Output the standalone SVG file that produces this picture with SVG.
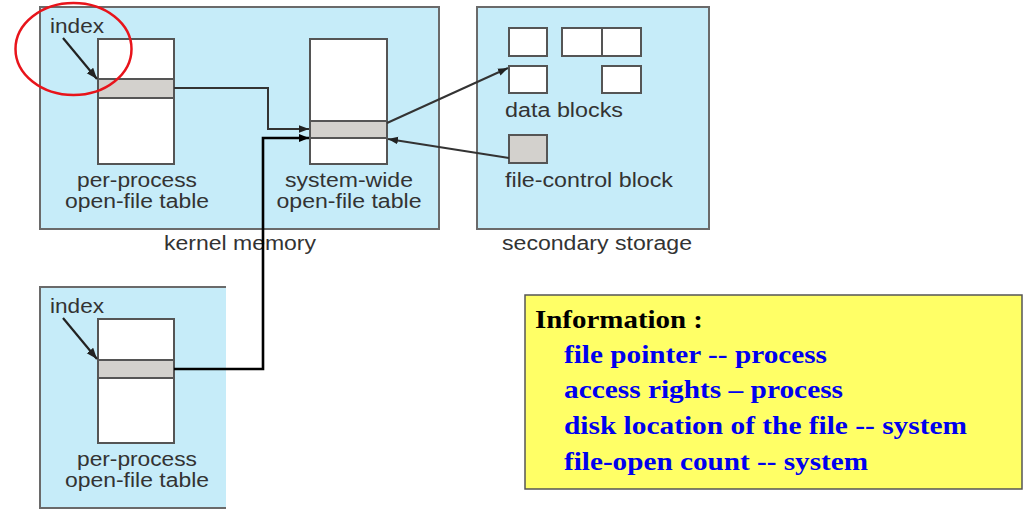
<svg xmlns="http://www.w3.org/2000/svg" width="1024" height="514" viewBox="0 0 1024 514">
<defs>
<marker id="ah" viewBox="0 0 10 10" refX="10" refY="5" markerWidth="5" markerHeight="5" orient="auto" markerUnits="strokeWidth">
<path d="M0,1.2 L10,5 L0,8.8 z" fill="#222"/>
</marker>
<marker id="ahb" viewBox="0 0 10 10" refX="10" refY="5" markerWidth="4" markerHeight="4" orient="auto" markerUnits="strokeWidth">
<path d="M0,1 L10,5 L0,9 z" fill="#000"/>
</marker>
</defs>
<style>
.area{fill:#C6ECF9;stroke:#6a6a6a;stroke-width:2}
.tbl{fill:#fff;stroke:#555;stroke-width:2}
.row{fill:#D3D1CD;stroke:#555;stroke-width:2}
.lbl{font-family:"Liberation Sans",Arial,sans-serif;font-size:20px;fill:#333}
.con{fill:none;stroke:#333;stroke-width:2}
.info{font-family:"Liberation Serif","Times New Roman",serif;font-size:25px;font-weight:bold}
</style>
<rect width="1024" height="514" fill="#fff"/>

<g id="kernel-memory">
<rect class="area" x="40" y="7" width="399" height="222"/>
<text class="lbl" x="240" y="250" text-anchor="middle" textLength="152" lengthAdjust="spacingAndGlyphs">kernel memory</text>
</g>

<g id="per-process-table-1">
<rect class="tbl" x="98" y="39" width="76" height="125"/>
<rect class="row" x="98" y="79" width="76" height="19"/>
<text class="lbl" x="50" y="33" textLength="54" lengthAdjust="spacingAndGlyphs">index</text>
<line x1="63" y1="38" x2="97" y2="79" stroke="#222" stroke-width="2.2" marker-end="url(#ah)"/>
<text class="lbl" x="137" y="187" text-anchor="middle" textLength="120" lengthAdjust="spacingAndGlyphs">per-process</text>
<text class="lbl" x="137" y="208" text-anchor="middle" textLength="144" lengthAdjust="spacingAndGlyphs">open-file table</text>
<ellipse cx="73.5" cy="49" rx="58" ry="46" fill="none" stroke="#E8141B" stroke-width="2.5"/>
</g>

<g id="system-wide-table">
<rect class="tbl" x="310" y="39" width="77" height="125"/>
<rect class="row" x="310" y="121" width="77" height="17"/>
<text class="lbl" x="349" y="187" text-anchor="middle" textLength="128" lengthAdjust="spacingAndGlyphs">system-wide</text>
<text class="lbl" x="349" y="208" text-anchor="middle" textLength="145" lengthAdjust="spacingAndGlyphs">open-file table</text>
</g>

<g id="secondary-storage">
<rect class="area" x="477" y="7" width="232" height="222"/>
<text class="lbl" x="597" y="250" text-anchor="middle" textLength="190" lengthAdjust="spacingAndGlyphs">secondary storage</text>
</g>

<g id="data-blocks">
<rect class="tbl" x="509" y="28" width="38" height="28"/>
<rect class="tbl" x="562" y="28" width="40" height="28"/>
<rect class="tbl" x="602" y="28" width="39" height="28"/>
<rect class="tbl" x="509" y="66" width="38" height="27"/>
<rect class="tbl" x="602" y="66" width="39" height="27"/>
<text class="lbl" x="505" y="117" textLength="118" lengthAdjust="spacingAndGlyphs">data blocks</text>
</g>

<g id="file-control-block">
<rect class="row" x="509" y="135" width="38" height="28"/>
<text class="lbl" x="505" y="187" textLength="168" lengthAdjust="spacingAndGlyphs">file-control block</text>
</g>

<g id="process-2">
<rect x="40" y="287" width="186" height="221" fill="#C6ECF9"/>
<path d="M226,287 H40 V508 H226" fill="none" stroke="#6a6a6a" stroke-width="2"/>
<rect class="tbl" x="98" y="319" width="76" height="124"/>
<rect class="row" x="98" y="360" width="76" height="18"/>
<text class="lbl" x="50" y="313" textLength="54" lengthAdjust="spacingAndGlyphs">index</text>
<line x1="63" y1="318" x2="97" y2="359" stroke="#222" stroke-width="2.2" marker-end="url(#ah)"/>
<text class="lbl" x="137" y="466" text-anchor="middle" textLength="120" lengthAdjust="spacingAndGlyphs">per-process</text>
<text class="lbl" x="137" y="487" text-anchor="middle" textLength="144" lengthAdjust="spacingAndGlyphs">open-file table</text>
</g>

<g id="connectors">
<path class="con" d="M174,88 H268 V129 H309" marker-end="url(#ah)"/>
<path d="M174,369 H263 V138 H309" fill="none" stroke="#000" stroke-width="2.6" marker-end="url(#ahb)"/>
<line class="con" x1="387" y1="123" x2="508" y2="68" marker-end="url(#ah)"/>
<line class="con" x1="509" y1="158" x2="388" y2="139" marker-end="url(#ah)"/>
</g>

<g id="information">
<rect x="525" y="295" width="497" height="194" fill="#FFFF66" stroke="#555" stroke-width="1.5"/>
<text class="info" x="535" y="328" fill="#000" textLength="168" lengthAdjust="spacingAndGlyphs">Information :</text>
<text class="info" x="564" y="363" fill="#0000EE" textLength="263" lengthAdjust="spacingAndGlyphs">file pointer -- process</text>
<text class="info" x="564" y="398" fill="#0000EE" textLength="279" lengthAdjust="spacingAndGlyphs">access rights – process</text>
<text class="info" x="564" y="434" fill="#0000EE" textLength="403" lengthAdjust="spacingAndGlyphs">disk location of the file -- system</text>
<text class="info" x="564" y="470" fill="#0000EE" textLength="304" lengthAdjust="spacingAndGlyphs">file-open count -- system</text>
</g>
</svg>
